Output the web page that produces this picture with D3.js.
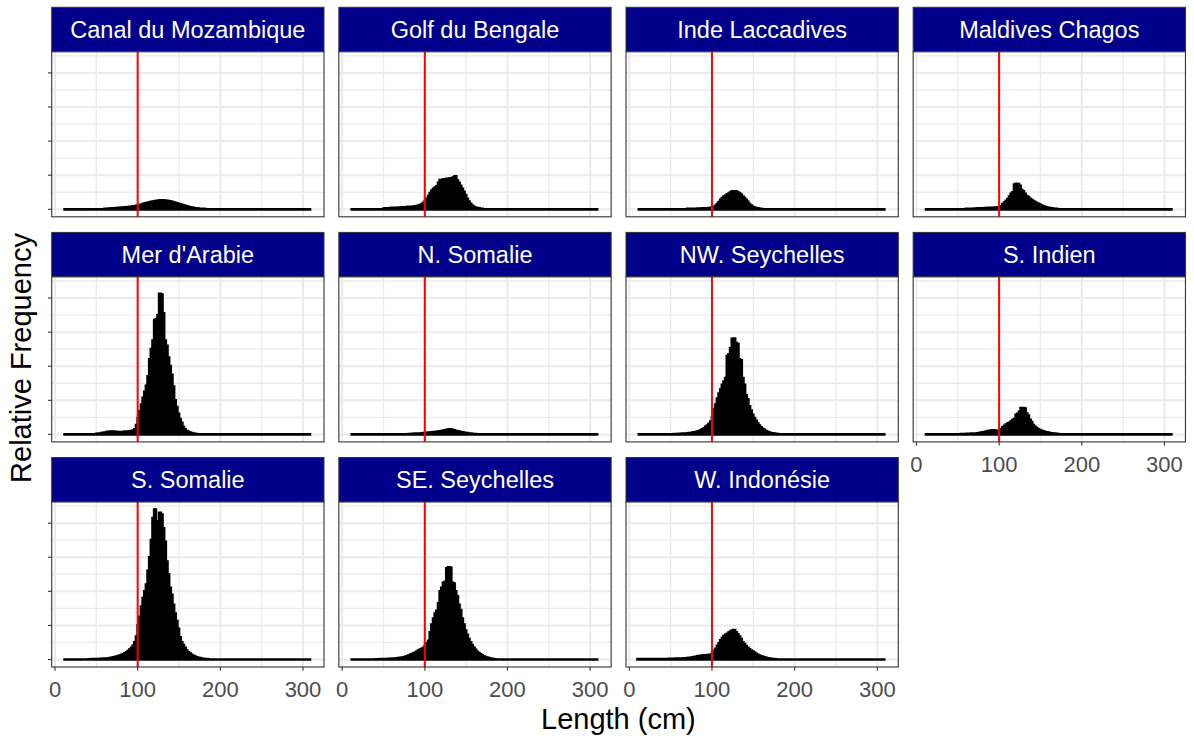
<!DOCTYPE html>
<html><head><meta charset="utf-8">
<script src="https://cdn.jsdelivr.net/npm/d3@7"></script>
<style>html,body{margin:0;padding:0;background:#fff;}svg{display:block;font-family:"Liberation Sans",Arial,sans-serif;}</style>
</head><body><svg id="chart" width="1194" height="740"></svg>
<script>
// ---- data (relative frequency, %, 2 cm length bins) ----
const regions = ["Canal du Mozambique","Golf du Bengale","Inde Laccadives","Maldives Chagos",
  "Mer d'Arabie","N. Somalie","NW. Seychelles","S. Indien","S. Somalie","SE. Seychelles","W. Indonésie"];
const binWidth = 2;
const binMin = 10, binMax = 310;
const firstBin = [60, 50, 70, 60, 50, 80, 50, 50, 40, 40, 10];
const freqCanal = [0.03,0.03,0.04,0.04,0.05,0.05,0.06,0.07,0.08,0.09, 0.10,0.10,0.11,0.12,0.13,0.14,0.15,0.17,0.18,0.20,
  0.22,0.25,0.27,0.30,0.33,0.36,0.38,0.41,0.43,0.45, 0.47,0.49,0.50,0.52,0.53,0.52,0.51,0.50,0.48,0.46,
  0.44,0.41,0.38,0.35,0.32,0.29,0.26,0.23,0.20,0.17, 0.15,0.12,0.10,0.08,0.06,0.05,0.04,0.03,0.02,0.02,0.01];
const freqBengale = [0.04,0.05,0.05,0.06,0.07,0.08,0.08,0.09,0.09,0.10, 0.10,0.11,0.12,0.12,0.13,0.14,0.15,0.15,0.16,0.18,
  0.19,0.21,0.24,0.30,0.38,0.50,0.62,0.78,0.95,1.10, 1.20,1.28,1.35,1.55,1.72,1.60,1.75,1.68,1.78,1.70,
  1.82,1.74,1.88,1.93,1.70,1.55,1.38,1.20,1.02,0.84, 0.62,0.45,0.32,0.22,0.15,0.10,0.07,0.05,0.03,0.02];
const freqLaccadives = [0.02,0.02,0.02,0.03,0.03,0.03,0.04,0.04,0.04,0.05, 0.05,0.05,0.06,0.07,0.08,0.10,0.14,0.20,0.30,0.42,
  0.55,0.66,0.74,0.80,0.88,0.92,1.00,1.05,1.04,1.06, 1.00,0.93,0.86,0.74,0.66,0.56,0.44,0.30,0.22,0.15,
  0.10,0.07,0.05,0.03,0.02];
const freqMaldives = [0.02,0.02,0.03,0.03,0.03,0.04,0.04,0.05,0.05,0.06, 0.06,0.07,0.07,0.08,0.08,0.09,0.09,0.10,0.10,0.11,
  0.12,0.18,0.30,0.40,0.50,0.60,0.75,0.90,1.00,1.45, 1.50,1.48,1.38,1.12,1.05,0.90,0.78,0.72,0.62,0.55,
  0.48,0.42,0.36,0.32,0.27,0.22,0.18,0.15,0.12,0.09, 0.07,0.05,0.04,0.03,0.02];
const freqArabie = [0.03,0.04,0.05,0.07,0.09,0.11,0.13,0.15,0.16,0.17, 0.17,0.15,0.14,0.13,0.12,0.13,0.14,0.16,0.17,0.16,
  0.18,0.20,0.23,0.30,0.55,0.95,1.35,1.75,2.15,2.50, 2.85,3.40,4.40,5.00,5.50,6.70,6.75,7.00,8.25,8.20,
  7.10,5.50,5.20,4.50,4.00,3.50,2.80,2.00,1.60,1.20, 0.90,0.68,0.45,0.30,0.20,0.15,0.10,0.07,0.05,0.03,0.02];
const freqNSomalie = [0.02,0.02,0.03,0.03,0.04,0.04,0.05,0.05,0.06,0.07, 0.08,0.09,0.10,0.11,0.12,0.13,0.14,0.15,0.16,0.18,
  0.20,0.22,0.24,0.26,0.28,0.29,0.27,0.24,0.21,0.18, 0.16,0.14,0.12,0.10,0.08,0.07,0.05,0.04,0.03,0.02,0.02];
const freqNWSeychelles = [0.01,0.01,0.02,0.02,0.02,0.03,0.03,0.04,0.05,0.05, 0.06,0.07,0.08,0.10,0.12,0.14,0.16,0.20,0.24,0.29,
  0.36,0.44,0.52,0.62,0.75,1.00,1.45,1.75,2.10,2.40, 2.65,2.90,3.10,3.30,4.60,4.70,5.05,5.60,5.62,5.35,
  5.30,4.40,4.35,3.30,2.90,2.30,2.05,1.65,1.40,1.15, 0.95,0.80,0.65,0.52,0.42,0.33,0.26,0.20,0.15,0.11,
  0.08,0.06,0.04,0.03,0.02,0.01];
const freqSIndien = [0.01,0.01,0.02,0.02,0.02,0.03,0.03,0.03,0.04,0.04, 0.05,0.05,0.06,0.08,0.10,0.12,0.14,0.17,0.19,0.21,
  0.23,0.24,0.22,0.20,0.19,0.22,0.30,0.42,0.50,0.58, 0.64,0.68,0.75,0.84,0.90,1.15,1.20,1.32,1.55,1.55,
  1.52,1.22,1.10,0.85,0.72,0.55,0.45,0.37,0.30,0.25, 0.21,0.18,0.15,0.12,0.10,0.08,0.06,0.05,0.04,0.03,0.02,0.01];
const freqSSomalie = [0.01,0.01,0.02,0.02,0.02,0.03,0.03,0.04,0.04,0.05, 0.05,0.06,0.07,0.08,0.10,0.12,0.14,0.17,0.20,0.23,
  0.27,0.31,0.36,0.42,0.50,0.58,0.68,0.82,1.00,1.35, 2.00,2.50,3.10,3.60,4.00,4.40,5.20,6.00,7.00,8.30,
  8.80,8.10,8.05,8.60,8.50,7.70,6.90,5.75,5.00,4.20, 3.80,3.20,2.70,2.25,1.80,1.30,1.00,0.85,0.68,0.52,
  0.42,0.34,0.28,0.22,0.17,0.13,0.10,0.08,0.06,0.04,0.03,0.02,0.01];
const freqSESeychelles = [0.01,0.01,0.01,0.02,0.02,0.02,0.03,0.03,0.04,0.04, 0.05,0.05,0.06,0.07,0.08,0.09,0.11,0.13,0.16,0.19,
  0.23,0.27,0.31,0.36,0.41,0.47,0.53,0.58,0.63,0.68, 0.80,0.95,1.10,1.60,2.05,2.40,2.70,2.85,3.30,4.00,
  4.20,4.50,4.55,5.35,5.40,5.38,4.50,4.45,4.00,3.70, 3.20,2.90,2.40,2.05,1.70,1.45,1.20,1.00,0.85,0.70,
  0.57,0.45,0.37,0.30,0.24,0.19,0.14,0.11,0.08,0.06,0.04,0.02,0.01];
const freqIndonesie = [0.02,0.02,0.02,0.02,0.02,0.02,0.02,0.02,0.02,0.02, 0.02,0.03,0.03,0.03,0.03,0.03,0.03,0.03,0.03,0.04,
  0.04,0.04,0.04,0.05,0.05,0.05,0.06,0.06,0.07,0.07, 0.08,0.09,0.10,0.12,0.14,0.16,0.18,0.20,0.22,0.23,
  0.24,0.25,0.26,0.27,0.28,0.38,0.50,0.62,0.80,0.95, 1.12,1.25,1.38,1.45,1.50,1.58,1.64,1.70,1.72,1.60,
  1.48,1.35,1.20,1.00,0.90,0.78,0.68,0.60,0.52,0.46, 0.40,0.33,0.27,0.23,0.19,0.15,0.12,0.09,0.07,0.05,
  0.04,0.03,0.02,0.01];
const freqSeries = [freqCanal,freqBengale,freqLaccadives,freqMaldives,freqArabie,freqNSomalie,
  freqNWSeychelles,freqSIndien,freqSSomalie,freqSESeychelles,freqIndonesie];
const refLength = 100;
const xTicks = [0,100,200,300];
const xMinorTicks = [50,150,250];
const yMajorTicks = [0,2,4,6,8];
const yMinorTicks = [1,3,5,7,9];

// ---- layout ----
const svg = d3.select("#chart");
const nCol = 4;
const colLeft0 = 51.7, colStep = 287.15, panelW = 272.3;
const rowTop0 = 7.3, rowStep = 225.1, stripH = 44.5, panelH = 165;
const fontStrip = 23.5, fontTick = 22, fontTitle = 29;

const xScale = d3.scaleLinear().domain([-4, 325.4]).range([0, panelW]);
const yMax = d3.max(freqSeries, s => d3.max(s));
const yScale = d3.scaleLinear().domain([-0.05*yMax, 1.05*yMax]).range([panelH, 0]);

const bins = d3.range(binMin, binMax, binWidth);

regions.forEach((name, i) => {
  const r = Math.floor(i / nCol), c = i % nCol;
  const gx = colLeft0 + c*colStep, gy = rowTop0 + r*rowStep;
  const g = svg.append("g").attr("transform", `translate(${gx},${gy})`);
  // strip
  g.append("rect").attr("x",0).attr("y",0).attr("width",panelW).attr("height",stripH)
    .attr("fill","#00008B").attr("stroke","#333333").attr("stroke-width",1);
  g.append("text").attr("x",panelW/2).attr("y",stripH/2 + fontStrip*0.716/2)
    .attr("text-anchor","middle").attr("fill","#FFFFFF").attr("font-size",fontStrip).text(name);
  const p = g.append("g").attr("transform",`translate(0,${stripH})`);
  p.append("rect").attr("width",panelW).attr("height",panelH).attr("fill","#fff");
  // grid
  p.selectAll(".gxm").data(xMinorTicks).join("line").attr("x1",d=>xScale(d)).attr("x2",d=>xScale(d))
    .attr("y1",0).attr("y2",panelH).attr("stroke","#ebebeb").attr("stroke-width",1.3);
  p.selectAll(".gym").data(yMinorTicks).join("line").attr("y1",d=>yScale(d)).attr("y2",d=>yScale(d))
    .attr("x1",0).attr("x2",panelW).attr("stroke","#ebebeb").attr("stroke-width",1.3);
  p.selectAll(".gxM").data(xTicks).join("line").attr("x1",d=>xScale(d)).attr("x2",d=>xScale(d))
    .attr("y1",0).attr("y2",panelH).attr("stroke","#ebebeb").attr("stroke-width",2);
  p.selectAll(".gyM").data(yMajorTicks).join("line").attr("y1",d=>yScale(d)).attr("y2",d=>yScale(d))
    .attr("x1",0).attr("x2",panelW).attr("stroke","#ebebeb").attr("stroke-width",2);
  // histogram (outline of all bins, including empty ones)
  const vals = freqSeries[i], start = firstBin[i];
  const binData = bins.map(b => {
    const k = Math.round((b - start)/binWidth);
    return {x0: b, x1: b + binWidth, v: (k >= 0 && k < vals.length) ? vals[k] : 0};
  });
  const pts = [[xScale(binMin), yScale(0)]];
  binData.forEach(d => { pts.push([xScale(d.x0), yScale(d.v)]); pts.push([xScale(d.x1), yScale(d.v)]); });
  pts.push([xScale(binMax), yScale(0)]);
  p.append("path").attr("d", d3.line()(pts) + "Z")
    .attr("fill","#000").attr("stroke","#000").attr("stroke-width",2.7).attr("stroke-linejoin","miter");
  // reference line
  p.append("line").attr("x1",xScale(refLength)).attr("x2",xScale(refLength)).attr("y1",0).attr("y2",panelH)
    .attr("stroke","#FF0000").attr("stroke-width",2);
  // border
  p.append("rect").attr("width",panelW).attr("height",panelH).attr("fill","none")
    .attr("stroke","#333333").attr("stroke-width",1.1);
  // y ticks on first column
  if (c === 0) {
    p.selectAll(".yt").data(yMajorTicks).join("line").attr("x1",-3.7).attr("x2",0)
      .attr("y1",d=>yScale(d)).attr("y2",d=>yScale(d)).attr("stroke","#333333").attr("stroke-width",1.1);
  }
  // x axis on bottom panels
  const below = i + nCol >= regions.length;
  if (below) {
    p.selectAll(".xt").data(xTicks).join("line").attr("x1",d=>xScale(d)).attr("x2",d=>xScale(d))
      .attr("y1",panelH).attr("y2",panelH+3.7).attr("stroke","#333333").attr("stroke-width",1.1);
    p.selectAll(".xl").data(xTicks).join("text").attr("x",d=>xScale(d)).attr("y",panelH+30)
      .attr("text-anchor","middle").attr("fill","#4D4D4D").attr("font-size",fontTick).text(d=>d);
  }
});

// axis titles
svg.append("text").attr("x", 618.4).attr("y", 729).attr("text-anchor","middle")
  .attr("font-size",fontTitle).attr("fill","#000").text("Length (cm)");
svg.append("text").attr("transform","translate(31,358) rotate(-90)").attr("text-anchor","middle")
  .attr("font-size",fontTitle).attr("fill","#000").text("Relative Frequency");
</script></body></html>
